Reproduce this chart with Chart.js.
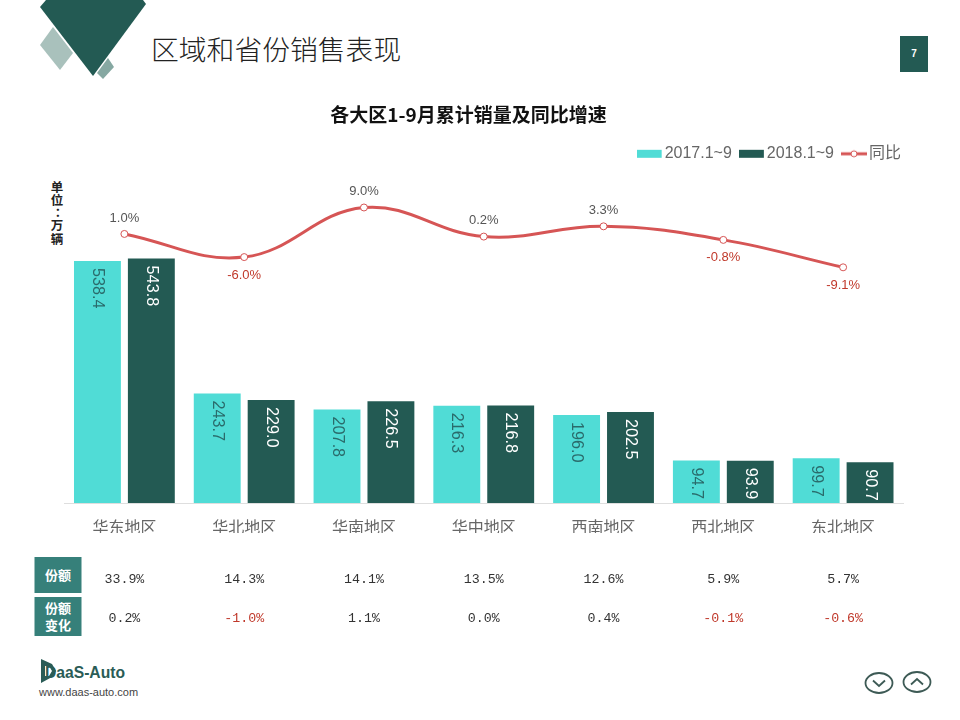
<!DOCTYPE html>
<html lang="zh">
<head>
<meta charset="utf-8">
<title>区域和省份销售表现</title>
<script src="https://cdn.jsdelivr.net/npm/chart.js@4"></script>
<style>
html,body{margin:0;padding:0;background:#fff;width:960px;height:720px;overflow:hidden}
#deco,#c{position:absolute;left:0;top:0}
</style>
</head>
<body>
<svg id="deco" width="960" height="720" viewBox="0 0 960 720" xmlns="http://www.w3.org/2000/svg">
  <polygon points="53,27 73,53 60,70 40,45" fill="#a9c1bc"/>
  <polygon points="108,58 114,67 103,79 97,73" fill="#86a8a2"/>
  <polygon points="46,0 143,0 146,4 93,76 40,7" fill="#235a53"/>
  <text x="151" y="60" font-family="'Noto Sans CJK SC'" font-size="27.8" font-weight="300" fill="#222">区域和省份销售表现</text>
  <rect x="900" y="36" width="28" height="36" fill="#235a53"/>
  <text x="914" y="57" font-family="'Liberation Sans'" font-size="10" font-weight="bold" fill="#fff" text-anchor="middle">7</text>
  <text x="57" y="192" font-family="'Noto Sans CJK SC'" font-size="12.5" font-weight="bold" fill="#222" text-anchor="middle">单</text>
  <text x="57" y="205" font-family="'Noto Sans CJK SC'" font-size="12.5" font-weight="bold" fill="#222" text-anchor="middle">位</text>
  <text x="61" y="217" font-family="'Noto Sans CJK SC'" font-size="12.5" font-weight="bold" fill="#222" text-anchor="middle">：</text>
  <text x="57" y="230" font-family="'Noto Sans CJK SC'" font-size="12.5" font-weight="bold" fill="#222" text-anchor="middle">万</text>
  <text x="57" y="243.5" font-family="'Noto Sans CJK SC'" font-size="12.5" font-weight="bold" fill="#222" text-anchor="middle">辆</text>
  <rect x="34.5" y="557" width="47" height="36" fill="#36807a"/>
  <rect x="34.5" y="597" width="47" height="39" fill="#36807a"/>
  <text x="58" y="580" font-family="'Noto Sans CJK SC'" font-size="13" font-weight="bold" fill="#fff" text-anchor="middle">份额</text>
  <text x="58" y="613" font-family="'Noto Sans CJK SC'" font-size="13" font-weight="bold" fill="#fff" text-anchor="middle">份额</text>
  <text x="58" y="630" font-family="'Noto Sans CJK SC'" font-size="13" font-weight="bold" fill="#fff" text-anchor="middle">变化</text>
  <text x="45" y="678" font-family="'Liberation Sans'" font-size="17" font-weight="bold" fill="#2a5c56" textLength="80" lengthAdjust="spacingAndGlyphs">DaaS-Auto</text>
  <path fill-rule="evenodd" fill="#2a5c56" d="M41,659 L52,664 L56,671 L52,677 L41,683 Z M45,666 L49,666 L52,671 L49,676 L45,676 Z"/>
  <text x="39" y="696" font-family="'Liberation Sans'" font-size="11" fill="#444">www.daas-auto.com</text>
  <g fill="none" stroke="#3d5a55" stroke-width="1.8">
    <ellipse cx="879" cy="683" rx="13.5" ry="10"/>
    <ellipse cx="917" cy="682" rx="13.5" ry="10"/>
    <polyline points="873,680.5 879,686 885,680.5"/>
    <polyline points="911,684.5 917,679 923,684.5"/>
  </g>
</svg>
<canvas id="c" width="960" height="720"></canvas>
<script>
const categories = ['华东地区','华北地区','华南地区','华中地区','西南地区','西北地区','东北地区'];
const sales2017 = [538.4,243.7,207.8,216.3,196.0,94.7,99.7];
const sales2018 = [543.8,229.0,226.5,216.8,202.5,93.9,90.7];
const growth = [1.0,-6.0,9.0,0.2,3.3,-0.8,-9.1];
const share = [33.9,14.3,14.1,13.5,12.6,5.9,5.7];
const shareChange = [0.2,-1.0,1.1,0.0,0.4,-0.1,-0.6];
const seriesNames = ['2017.1~9','2018.1~9','同比'];
const LIGHT = '#50dcd6', DARK = '#235a53', RED = '#d65555', NEG = '#c0392b';
const SANS = "'Liberation Sans','Noto Sans CJK SC',sans-serif";

function swatch(color){
  const k = document.createElement('canvas'); k.width = 30; k.height = 10;
  const g = k.getContext('2d'); g.fillStyle = color; g.fillRect(0,1,25,8);
  return k;
}
function lineSwatch(){
  const k = document.createElement('canvas'); k.width = 30; k.height = 10;
  const g = k.getContext('2d');
  g.strokeStyle = RED; g.lineWidth = 3; g.beginPath(); g.moveTo(0,5); g.lineTo(26,5); g.stroke();
  g.fillStyle = '#fff'; g.lineWidth = 1; g.beginPath(); g.arc(13,5,3,0,Math.PI*2); g.fill(); g.stroke();
  return k;
}
const legendImages = [swatch(LIGHT), swatch(DARK), lineSwatch()];

const annotate = {
  id: 'annotate',
  afterDatasetsDraw(chart){
    const ctx = chart.ctx;
    ctx.save();
    [0,1].forEach(d => {
      chart.getDatasetMeta(d).data.forEach((bar,i) => {
        ctx.save();
        ctx.translate(bar.x, bar.y + 7);
        ctx.rotate(Math.PI/2);
        ctx.font = '16.2px ' + SANS;
        ctx.textAlign = 'left';
        ctx.textBaseline = 'middle';
        ctx.fillStyle = d === 0 ? '#2a6b6b' : '#fff';
        ctx.fillText(chart.data.datasets[d].data[i].toFixed(1), 0, 0);
        ctx.restore();
      });
    });
    ctx.font = '13px ' + SANS;
    ctx.textAlign = 'center';
    ctx.textBaseline = 'middle';
    chart.getDatasetMeta(2).data.forEach((pt,i) => {
      const v = growth[i];
      ctx.fillStyle = v < 0 ? NEG : '#555';
      ctx.fillText(v.toFixed(1) + '%', pt.x, pt.y + (v < 0 ? 18 : -16));
    });
    ctx.font = "13.3px 'Liberation Mono',monospace";
    categories.forEach((c,i) => {
      const x = chart.scales.x.getPixelForValue(i);
      ctx.fillStyle = '#333';
      ctx.fillText(share[i].toFixed(1) + '%', x, 579);
      ctx.fillStyle = shareChange[i] < 0 ? NEG : '#333';
      ctx.fillText(shareChange[i].toFixed(1) + '%', x, 618);
    });
    ctx.restore();
  }
};

new Chart(document.getElementById('c'), {
  data: {
    labels: categories,
    datasets: [
      {type:'bar', label:seriesNames[0], data:sales2017, backgroundColor:LIGHT, yAxisID:'y', order:2, categoryPercentage:0.9, barPercentage:0.87},
      {type:'bar', label:seriesNames[1], data:sales2018, backgroundColor:DARK, yAxisID:'y', order:2, categoryPercentage:0.9, barPercentage:0.87},
      {type:'line', label:seriesNames[2], data:growth, borderColor:RED, borderWidth:3, tension:0.4, yAxisID:'y1', order:1,
       pointRadius:3.5, pointBackgroundColor:'#fff', pointBorderColor:RED, pointBorderWidth:1, clip:false}
    ]
  },
  options: {
    responsive:false,
    animation:false,
    devicePixelRatio:1,
    layout:{padding:{left:19,right:42,top:103,bottom:187}},
    plugins:{
      tooltip:{enabled:false},
      title:{display:true,text:'各大区1-9月累计销量及同比增速',color:'#111',
        font:{family:"'Noto Sans CJK SC'",size:19,weight:'bold',lineHeight:1.2},padding:{top:0,bottom:3}},
      legend:{display:true,position:'top',align:'end',
        labels:{usePointStyle:true,pointStyleWidth:10,boxHeight:10,padding:17,color:'#666',
          font:{family:SANS,size:16},
          generateLabels(chart){
            return chart.data.datasets.map((d,i) => ({text:d.label,pointStyle:legendImages[i],fontColor:'#666',datasetIndex:i,lineWidth:0,hidden:false}));
          }}}
    },
    scales:{
      x:{grid:{display:false},border:{display:true,color:'#dedede'},
        ticks:{color:'#666',font:{family:"'Noto Sans CJK SC'",size:16},padding:6},
        afterFit(s){s.height=30;}},
      y:{min:0,max:737,grid:{display:false},border:{display:false},ticks:{display:false},afterFit(s){s.width=45.5;}},
      y1:{position:'right',min:-80.4,max:19.8,grid:{display:false},border:{display:false},ticks:{display:false},afterFit(s){s.width=15;}}
    }
  },
  plugins:[annotate]
});
</script>
</body>
</html>
